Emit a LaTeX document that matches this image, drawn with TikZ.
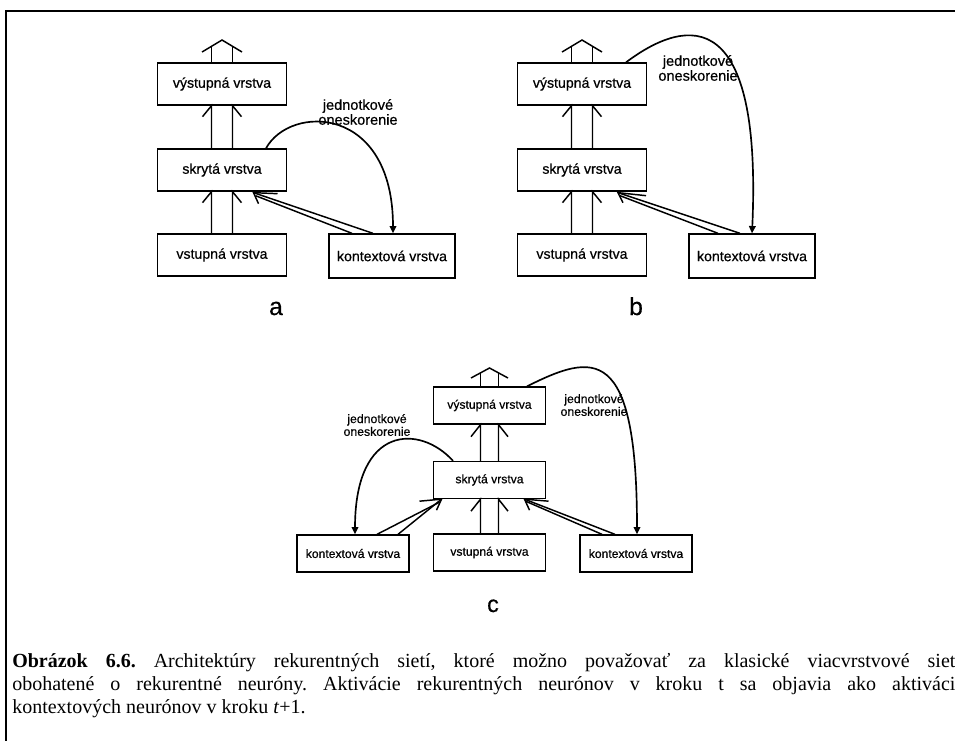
\documentclass[tikz,border=0pt]{standalone}
\usepackage{fontspec}
\setmainfont{Liberation Serif}
\newfontfamily\arialfont[FakeBold=0.5]{Liberation Sans}
\usetikzlibrary{arrows.meta,calc}

% twin parallel lines from a lower box up to an upper box, barbs at the upper end
% #1 lower node, #2 upper node, #3 half gap, #4 barb dx, #5 barb dy
\newcommand\twinup[5]{%
  \draw[conn] ($(#1.north)+(-#3,0)$) -- ($(#2.south)+(-#3,0)$) -- ++(-#4,#5);
  \draw[conn] ($(#1.north)+(#3,0)$) -- ($(#2.south)+(#3,0)$) -- ++(#4,#5);}

\begin{document}
\begin{tikzpicture}[x=0.75pt,y=-0.75pt,
  layer/.style={draw, line width=1pt, fill=white, minimum width=96.75pt,
    minimum height=31.5pt, inner sep=0pt,
    font=\arialfont\fontsize{10.6}{12}\selectfont},
  layersm/.style={layer, minimum width=84pt, minimum height=27.75pt,
    font=\arialfont\fontsize{9.1}{10}\selectfont},
  conn/.style={line width=1.1pt},
  delay/.style={line width=1.25pt, -{Triangle[length=5.5pt,width=5pt]}},
  dlabel/.style={align=center, inner sep=0pt,
    font=\arialfont\fontsize{10.9}{9.2}\selectfont},
  dlabelsm/.style={dlabel, font=\arialfont\fontsize{9.2}{7.6}\selectfont},
  panel/.style={font=\arialfont\fontsize{18.5}{20}\selectfont, anchor=base, inner sep=0pt}
]
\useasboundingbox (0,0) rectangle (955,740);

% outer frame
\draw[line width=1.7pt] (6,11) rectangle (975,770);

% ---------------- panel a ----------------
\node[layer] (outA) at (222,84) {výstupná vrstva};
\node[layer] (hidA) at (222,170) {skrytá vrstva};
\node[layer] (inA) at (222,255) {vstupná vrstva};
\node[layer, minimum width=94.5pt, minimum height=33pt] (ctxA) at (392,256) {kontextová vrstva};

\coordinate (topA) at (222,40);
\draw[conn] ($(outA.north)+(-10.5,0)$) -- ($(topA)+(-10.5,6.3)$);
\draw[conn] ($(outA.north)+(10.5,0)$) -- ($(topA)+(10.5,6.3)$);
\draw[conn] ($(topA)+(-20,12)$) -- (topA) -- ($(topA)+(20,12)$);
\twinup{hidA}{outA}{10.5}{9}{11}
\twinup{inA}{hidA}{10.5}{9}{11}

\coordinate (tipA) at ($(hidA.south)+(31.5,1)$);
\draw[conn] ($(ctxA.north)+(-40,0)$) -- ($(tipA)+(2,3)$);
\draw[conn] ($(ctxA.north)+(-19,0)$) -- (tipA);
\draw[conn] ($(tipA)+(24,1)$) -- (tipA) -- ($(tipA)+(5,11)$);

\draw[delay] ($(hidA.north)+(44,0)$) .. controls +(24,-44) and +(0,-129) .. ($(ctxA.north)+(1,0)$);
\node[dlabel] (lblA) at (358,112) {jednotkové\\oneskorenie};
\node[panel] (capA) at (276,315) {a};

% ---------------- panel b ----------------
\node[layer] (outB) at (582,84) {výstupná vrstva};
\node[layer] (hidB) at (582,170) {skrytá vrstva};
\node[layer] (inB) at (582,255) {vstupná vrstva};
\node[layer, minimum width=94.5pt, minimum height=33pt] (ctxB) at (752,256) {kontextová vrstva};

\coordinate (topB) at (582,40);
\draw[conn] ($(outB.north)+(-10.5,0)$) -- ($(topB)+(-10.5,6.3)$);
\draw[conn] ($(outB.north)+(10.5,0)$) -- ($(topB)+(10.5,6.3)$);
\draw[conn] ($(topB)+(-20,12)$) -- (topB) -- ($(topB)+(20,12)$);
\twinup{hidB}{outB}{10.5}{9}{11}
\twinup{inB}{hidB}{10.5}{9}{11}

\coordinate (tipB) at ($(hidB.south)+(36,1)$);
\draw[conn] ($(ctxB.north)+(-34,0)$) -- ($(tipB)+(2,3)$);
\draw[conn] ($(ctxB.north)+(-12,0)$) -- (tipB);
\draw[conn] ($(tipB)+(28,3)$) -- (tipB) -- ($(tipB)+(5,10)$);

\draw[delay] ($(outB.north)+(44,0)$) .. controls +(64,-48) and +(10,-224) .. (ctxB.north);
\node[dlabel] (lblB) at (698,68) {jednotkové\\oneskorenie};
\node[panel] (capB) at (636,315) {b};

% ---------------- panel c ----------------
\node[layersm] (outC) at (489.5,405.5) {výstupná vrstva};
\node[layersm] (hidC) at (489.5,480) {skrytá vrstva};
\node[layersm] (inC) at (489.5,552.5) {vstupná vrstva};
\node[layersm] (ctxL) at (353,553.5) {kontextová vrstva};
\node[layersm] (ctxR) at (636,553.5) {kontextová vrstva};

\coordinate (topC) at (489.5,368);
\draw[conn] ($(outC.north)+(-9,0)$) -- ($(topC)+(-9,4.9)$);
\draw[conn] ($(outC.north)+(9,0)$) -- ($(topC)+(9,4.9)$);
\draw[conn] ($(topC)+(-18.5,10)$) -- (topC) -- ($(topC)+(18.5,10)$);
\twinup{hidC}{outC}{9}{9.5}{12}
\twinup{inC}{hidC}{9}{9.5}{12}

\coordinate (tipL) at ($(hidC.south)+(-48,0)$);
\draw[conn] ($(ctxL.north)+(24,0)$) -- ($(tipL)+(-2,3)$);
\draw[conn] ($(ctxL.north)+(45,0)$) -- (tipL);
\draw[conn] ($(tipL)+(-22,2)$) -- (tipL) -- ($(tipL)+(-5,11)$);

\coordinate (tipR) at ($(hidC.south)+(35,0)$);
\draw[conn] ($(ctxR.north)+(-34,0)$) -- ($(tipR)+(1,2)$);
\draw[conn] ($(ctxR.north)+(-21,0)$) -- (tipR);
\draw[conn] ($(tipR)+(24,2)$) -- (tipR) -- ($(tipR)+(5,11)$);

\draw[delay] ($(hidC.north)+(-36.5,0)$) .. controls +(-33,-36.5) and +(0,-110) .. ($(ctxL.north)+(2,0)$);
\draw[delay] ($(outC.north)+(37.5,0)$) .. controls +(66,-33) and +(0,-192) .. ($(ctxR.north)+(1,0)$);
\node[dlabelsm] (lblL) at (377,425) {jednotkové\\oneskorenie};
\node[dlabelsm] (lblR) at (594,405) {jednotkové\\oneskorenie};
\node[panel, font=\arialfont\fontsize{17.5}{19}\selectfont] (capC) at (493,612) {c};

% ---------------- caption ----------------
\node[anchor=base west, inner sep=0pt] (caption) at (12,667) {\parbox[t]{714pt}{%
  \fontsize{15}{17.6}\selectfont\frenchspacing
  \textbf{Obrázok 6.6.} Architektúry rekurentných sietí, ktoré možno považovať za klasické viacvrstvové siete\linebreak
  obohatené o rekurentné neuróny. Aktivácie rekurentných neurónov v kroku t sa objavia ako aktivácie\linebreak
  kontextových neurónov v kroku \textit{t}+1.}};
\end{tikzpicture}
\end{document}
